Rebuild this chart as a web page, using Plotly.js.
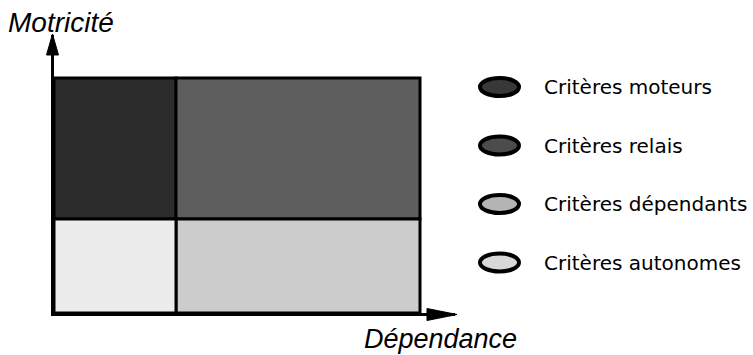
<!DOCTYPE html>
<html>
<head>
<meta charset="utf-8">
<script src="https://cdn.plot.ly/plotly-3.0.1.min.js"></script>
<style>html,body{margin:0;padding:0;background:#fff;}#chart{width:753px;height:355px;}</style>
</head>
<body>
<div id="chart"></div>
<script>
// Quadrants (categories) and their extents in the (Dépendance, Motricité) plane
const quadrantNames = ['Critères moteurs', 'Critères relais', 'Critères dépendants', 'Critères autonomes'];
const depStart = [0, 1, 1, 0];
const depEnd   = [1, 3, 3, 1];
const motStart = [2, 2, 0, 0];
const motEnd   = [5, 5, 2, 2];
const axisTitleX = 'Dépendance';
const axisTitleY = 'Motricité';

const quadrantColors = ['#2c2c2c', '#5e5e5e', '#cccccc', '#ececec'];
const legendFill = ['#383838', '#4c4c4c', '#b4b4b4', '#d8d8d8'];

const W = 753, H = 355;
const mL = 54, mR = 298, mT = 35, mB = 42;
const plotW = W - mL - mR, plotH = H - mT - mB;
const px2paperX = p => (p - mL) / plotW;
const px2paperY = p => (H - mB - p) / plotH;
const pathPx = pts => 'M' + pts.map(p => px2paperX(p[0]).toFixed(5) + ',' + px2paperY(p[1]).toFixed(5)).join('L') + 'Z';

const xMax = (W - mR - mL) / ((420 - mL) / 3), yMax = 5 * (H - mB - mT) / (H - mB - 78);

const bars = {
  type: 'bar',
  x: depStart.map((s, i) => (s + depEnd[i]) / 2),
  width: depStart.map((s, i) => depEnd[i] - s),
  base: motStart,
  y: motStart.map((s, i) => motEnd[i] - s),
  marker: { color: quadrantColors, line: { color: '#000', width: 3 } },
  hoverinfo: 'skip',
  showlegend: false
};

const yLineX = mL - 1.5, xLineY = H - mB + 1.5;
const shapes = [
  { type: 'path', xref: 'paper', yref: 'paper', layer: 'above',
    path: pathPx([[yLineX - 6, 55], [yLineX, 34], [yLineX + 6, 55]]), fillcolor: '#000', line: { color: '#000', width: 1 } },
  { type: 'path', xref: 'paper', yref: 'paper', layer: 'above',
    path: pathPx([[427, xLineY - 6], [457, xLineY], [427, xLineY + 6]]), fillcolor: '#000', line: { color: '#000', width: 1 } }
];
const annotations = [
  { xref: 'paper', yref: 'paper', x: px2paperX(6), y: px2paperY(22), xanchor: 'left', yanchor: 'middle',
    text: axisTitleY, showarrow: false, font: { family: 'Liberation Sans, Arial, sans-serif', size: 28, color: '#000', style: 'italic' } },
  { xref: 'paper', yref: 'paper', x: px2paperX(362), y: px2paperY(339), xanchor: 'left', yanchor: 'middle',
    text: axisTitleX, showarrow: false, font: { family: 'Liberation Sans, Arial, sans-serif', size: 27, color: '#000', style: 'italic' } }
];

const legTop = 87, legStep = 58.5;
quadrantNames.forEach((name, i) => {
  const cy = legTop + i * legStep;
  shapes.push({ type: 'circle', xref: 'paper', yref: 'paper',
    x0: px2paperX(480), x1: px2paperX(519), y0: px2paperY(cy + 9), y1: px2paperY(cy - 9),
    fillcolor: legendFill[i], line: { color: '#000', width: 4 } });
  annotations.push({ xref: 'paper', yref: 'paper', x: px2paperX(542), y: px2paperY(cy), xanchor: 'left', yanchor: 'middle',
    text: name, showarrow: false, font: { family: 'DejaVu Sans, sans-serif', size: 20, color: '#000' } });
});

const layout = {
  width: W, height: H,
  margin: { l: mL, r: mR, t: mT, b: mB, pad: 0 },
  paper_bgcolor: '#fff', plot_bgcolor: '#fff',
  barmode: 'overlay', bargap: 0,
  xaxis: { range: [0, xMax], showline: true, linecolor: '#000', linewidth: 3, showgrid: false, zeroline: false,
           showticklabels: false, ticks: '', fixedrange: true },
  yaxis: { range: [0, yMax], showline: true, linecolor: '#000', linewidth: 3, showgrid: false, zeroline: false,
           showticklabels: false, ticks: '', fixedrange: true },
  shapes: shapes,
  annotations: annotations,
  showlegend: false
};

Plotly.newPlot('chart', [bars], layout, { displayModeBar: false, staticPlot: true });
</script>
</body>
</html>
